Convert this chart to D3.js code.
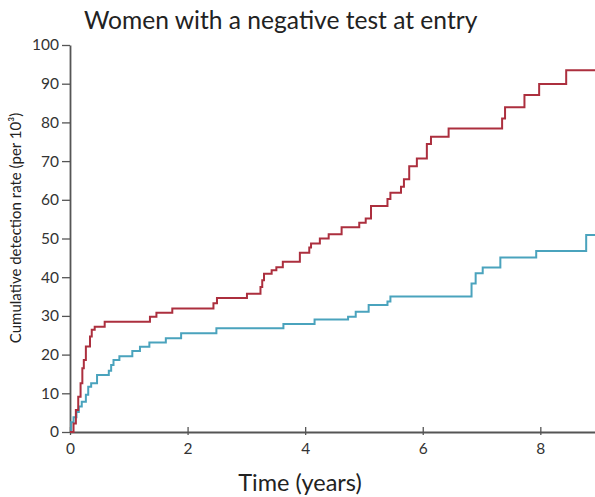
<!DOCTYPE html>
<html>
<head>
<meta charset="utf-8">
<script src="https://cdn.jsdelivr.net/npm/d3@7"></script>
<style>
  body { margin: 0; background: #fff; }
  svg { display: block; font-family: Lato, "Open Sans", sans-serif; }
</style>
</head>
<body>
<div id="chart"></div>
<script>
// (time in years, rate per 10^3)
var redTimes = [0, 0.06, 0.10, 0.14, 0.18, 0.21, 0.235, 0.27, 0.34, 0.37, 0.42, 0.59,
    1.36, 1.47, 1.74, 2.44, 2.50, 3.01, 3.24, 3.27, 3.30, 3.43, 3.51, 3.62, 3.91,
    4.07, 4.10, 4.25, 4.40, 4.62, 4.92, 5.03, 5.12, 5.40, 5.45, 5.63, 5.68, 5.77,
    5.90, 6.07, 6.14, 6.44, 7.35, 7.40, 7.73, 7.98, 8.44];
var redRates = [0, 2.2, 5.7, 9.1, 12.6, 16.5, 18.6, 22.1, 24.7, 26.4, 27.2, 28.5,
    29.8, 30.8, 31.9, 33.3, 34.6, 35.7, 37.5, 39.2, 40.9, 41.8, 42.6, 44.0, 46.3,
    47.7, 48.7, 50.0, 51.1, 52.9, 54.1, 55.2, 58.4, 60.2, 61.8, 63.4, 65.3, 68.7,
    70.7, 74.4, 76.3, 78.4, 81.0, 83.9, 87.1, 89.9, 93.5];

var blueTimes = [0, 0.02, 0.06, 0.11, 0.15, 0.20, 0.27, 0.31, 0.36, 0.46, 0.66, 0.70,
    0.74, 0.84, 1.06, 1.19, 1.35, 1.63, 1.89, 2.49, 3.63, 4.16, 4.73, 4.86, 5.08,
    5.40, 5.45, 6.83, 6.90, 7.02, 7.32, 7.93, 8.78];
var blueRates = [0, 2.5, 3.8, 5.2, 6.6, 7.8, 9.6, 11.7, 12.6, 14.7, 15.8, 17.3,
    18.6, 19.6, 20.9, 22.0, 23.1, 24.2, 25.5, 26.8, 27.9, 29.1, 29.8, 31.1, 32.8,
    33.7, 35.0, 38.4, 41.0, 42.5, 45.1, 46.8, 50.9];

var xTicks = [0, 2, 4, 6, 8];
var yTicks = [0, 10, 20, 30, 40, 50, 60, 70, 80, 90, 100];

var width = 595, height = 497;
var margin = {top: 45, right: 0, bottom: 65, left: 70};
var tickFont = '15.5px';

var svg = d3.select('#chart').append('svg')
    .attr('width', width)
    .attr('height', height);

var x = d3.scaleLinear().domain([0, 8.93]).range([margin.left, width - margin.right]);
var y = d3.scaleLinear().domain([0, 100]).range([height - margin.bottom, margin.top]);

svg.append('text')
    .attr('x', 84)
    .attr('y', 29)
    .style('font-size', '24.6px')
    .style('fill', '#222')
    .text('Women with a negative test at entry');

// axes
var axisColor = '#555';

svg.append('g')
    .attr('transform', 'translate(0,' + y(0) + ')')
    .call(d3.axisBottom(x).tickValues(xTicks).tickSize(3).tickPadding(8).tickSizeOuter(0))
    .call(function(g) {
        g.select('.domain').attr('stroke', axisColor).attr('stroke-width', 1.8);
        g.selectAll('.tick line').attr('stroke', axisColor).attr('stroke-width', 1.3).attr('y1', -5);
        g.selectAll('.tick text').style('font-size', tickFont).style('fill', '#333')
            .style('font-family', 'Lato, "Open Sans", sans-serif');
    });

svg.append('g')
    .attr('transform', 'translate(' + x(0) + ',0)')
    .call(d3.axisLeft(y).tickValues(yTicks).tickSize(8).tickPadding(3).tickSizeOuter(0))
    .call(function(g) {
        g.select('.domain').attr('stroke', axisColor).attr('stroke-width', 1.8);
        g.selectAll('.tick line').attr('stroke', axisColor).attr('stroke-width', 1.3);
        g.selectAll('.tick text').style('font-size', tickFont).style('fill', '#333')
            .style('font-family', 'Lato, "Open Sans", sans-serif');
    });

svg.append('text')
    .attr('x', 300)
    .attr('y', 491)
    .attr('text-anchor', 'middle')
    .style('font-size', '23.5px')
    .style('fill', '#222')
    .text('Time (years)');

svg.append('text')
    .attr('transform', 'translate(21,228) rotate(-90)')
    .attr('text-anchor', 'middle')
    .style('font-size', '15px')
    .style('fill', '#222')
    .text('Cumulative detection rate (per 10³)');

// step curves, carried to the end of the time axis
var line = d3.line()
    .x(function(d) { return x(d[0]); })
    .y(function(d) { return y(d[1]); })
    .curve(d3.curveStepAfter);

function series(times, rates) {
    var pts = times.map(function(t, i) { return [t, rates[i]]; });
    pts.push([x.domain()[1], rates[rates.length - 1]]);
    return pts;
}

svg.append('path')
    .datum(series(blueTimes, blueRates))
    .attr('fill', 'none')
    .attr('stroke', '#4aa3bd')
    .attr('stroke-width', 2)
    .attr('d', line);

svg.append('path')
    .datum(series(redTimes, redRates))
    .attr('fill', 'none')
    .attr('stroke', '#ac2f3e')
    .attr('stroke-width', 2)
    .attr('d', line);
</script>
</body>
</html>
